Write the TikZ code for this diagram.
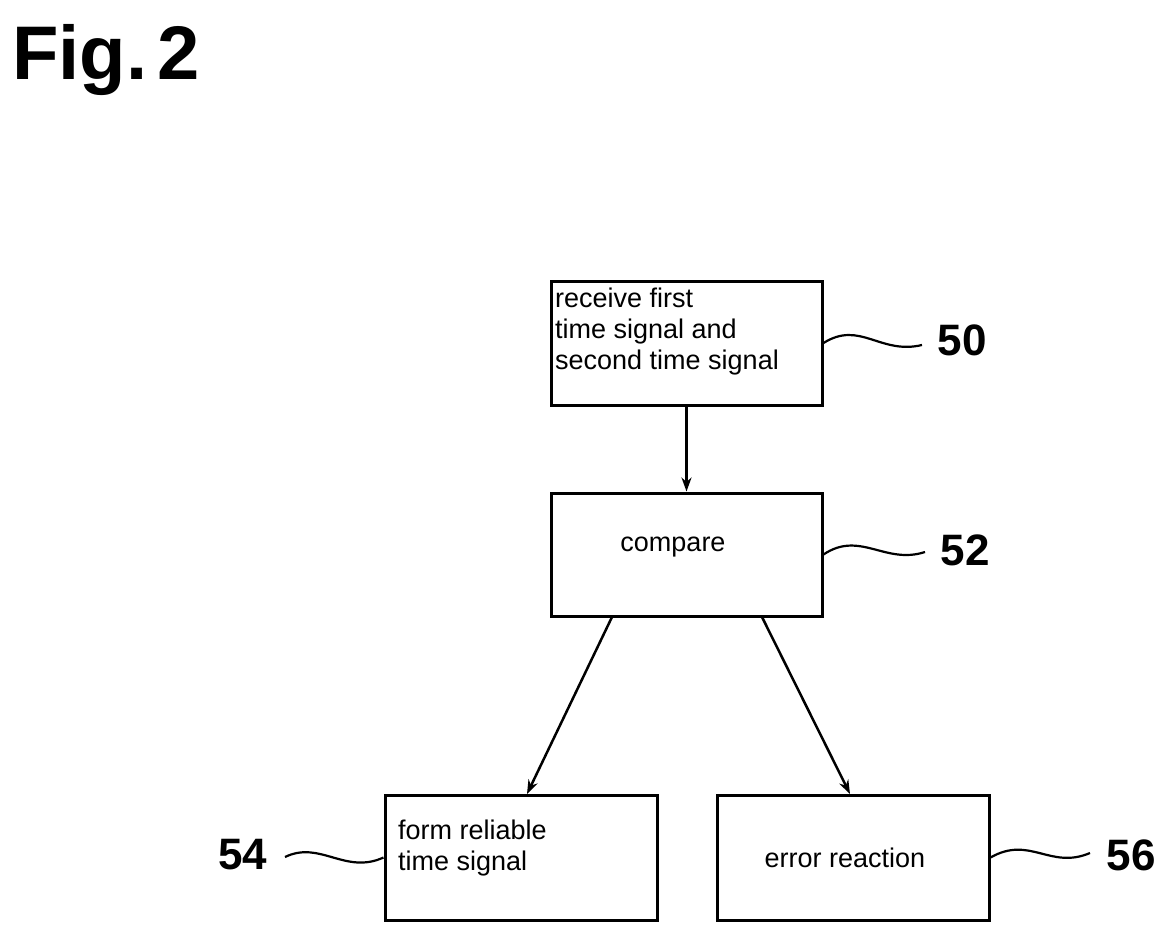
\documentclass[tikz,border=0pt]{standalone}
\usepackage{fontspec}
\setmainfont{Liberation Sans}
\usetikzlibrary{arrows.meta}
\begin{document}
\begin{tikzpicture}[x=1pt,y=-1pt,
  box/.style={draw,line width=3pt,inner sep=0pt},
  txt/.style={font=\fontsize{27}{31}\selectfont,align=left},
  num/.style={font=\fontsize{44}{44}\selectfont\bfseries},
  arr/.style={line width=2.5pt,-{Stealth[length=14pt,width=10pt]}},
  sq/.style={line width=2.2pt}]
\useasboundingbox (0,0) rectangle (1176,943);
\node[font=\fontsize{76}{76}\selectfont\bfseries,anchor=west,inner sep=0pt] (fig) at (12,60) {Fig.\kern-2pt\,2};
\node[box,minimum width=271pt,minimum height=124pt] (b50) at (686.5,343) {};
\node[txt,anchor=north west,inner sep=0pt] (t50) at (555,288) {receive first\\time signal and\\second time signal};
\node[box,minimum width=271pt,minimum height=123pt] (b52) at (686.5,554.5) {};
\node[txt] (t52) at (673,547) {compare};
\node[box,minimum width=272pt,minimum height=125pt] (b54) at (521,857.5) {};
\node[txt,anchor=north west,inner sep=0pt] (t54) at (398,820) {form reliable\\time signal};
\node[box,minimum width=272pt,minimum height=125pt] (b56) at (853,857.5) {};
\node[txt] (t56) at (845,858) {error reaction};
\node[num] (n50) at (962,340) {50};
\node[num] (n52) at (965,550) {52};
\node[num] (n54) at (243,855) {54};
\node[num] (n56) at (1131,855) {56};
\draw[arr] (b50.south) -- (b52.north);
\draw[arr] (612,617) -- (527,794);
\draw[arr] (762,617) -- (850,794);
\coordinate (e50) at (922,345);
\coordinate (e52) at (925,552);
\coordinate (e54) at (285,857);
\coordinate (e56) at (1090,853);
\draw[sq] (b50.east) .. controls (860,320) and (880,355) .. (e50);
\draw[sq] (b52.east) .. controls (860,530) and (885,565) .. (e52);
\draw[sq] (b54.west) .. controls (345,875) and (320,840) .. (e54);
\draw[sq] (b56.east) .. controls (1030,835) and (1050,870) .. (e56);
\end{tikzpicture}
\end{document}
